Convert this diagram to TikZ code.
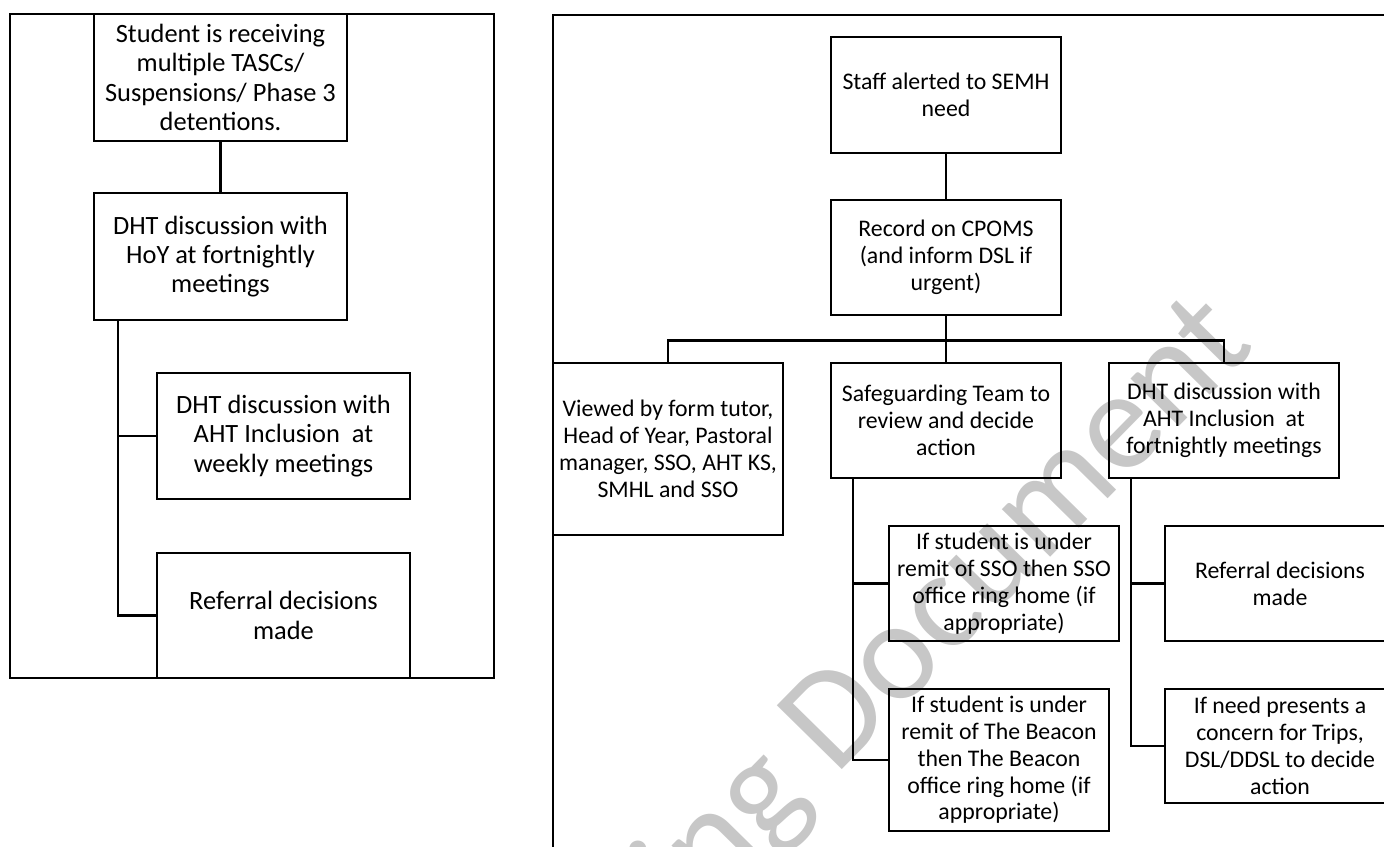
\documentclass[tikz,border=0pt]{standalone}
\usepackage{fontspec}
\setmainfont{Carlito}
\tikzset{
  box/.style={draw, line width=1.25pt, inner sep=0pt, align=center},
  leftbox/.style={box, minimum width=126.5pt, font=\fontsize{13.2}{14.6}\selectfont},
  rightbox/.style={box, minimum width=115pt, font=\fontsize{11.9}{13.4}\selectfont},
  link/.style={line width=1.25pt},
  panel/.style={line width=0.9pt}
}

\begin{document}
\begin{tikzpicture}[x=0.5pt, y=-0.5pt]
  \useasboundingbox (0,0) rectangle (1384,846);
  \clip (0,0) rectangle (1384,846);
  % watermark
  \node[rotate=45.5, anchor=base east, text=black!22, font=\fontsize{71}{71}\selectfont] (wmark) at (1262,342) {ing Document};
  % left panel
  \draw[panel] (10,14) rectangle (494,678);
  \node[leftbox, minimum height=63.5pt] (stud) at (220.5,77.5) {Student is receiving\\multiple TASCs/\\Suspensions/ Phase 3\\detentions.};
  \node[leftbox, minimum height=63.5pt] (hoy) at (220.5,256.5) {DHT discussion with\\HoY at fortnightly\\meetings};
  \node[leftbox, minimum height=63pt] (weekly) at (283.5,436) {DHT discussion with\\AHT Inclusion\ \ at\\weekly meetings};
  \node[leftbox, minimum height=62.5pt] (refer) at (283.5,615.5) {Referral decisions\\made};
  \draw[link] (stud) -- (hoy);
  \draw[link] (hoy.south west) ++(25,0) coordinate (lt) |- (weekly.west);
  \draw[link] (lt) |- (refer.west);
  % right panel
  \draw[panel] (553,15) rectangle (1420,900);
  \node[rightbox, minimum height=58pt] (staff) at (946,95) {Staff alerted to SEMH\\need};
  \node[rightbox, minimum height=57.5pt] (rec) at (946,257.5) {Record on CPOMS\\(and inform DSL if\\urgent)};
  \node[rightbox, minimum height=86pt] (view) at (668,449) {Viewed by form tutor,\\Head of Year, Pastoral\\manager, SSO, AHT KS,\\SMHL and SSO};
  \node[rightbox, minimum height=57.5pt] (safe) at (946,420.5) {Safeguarding Team to\\review and decide\\action};
  \node[rightbox, minimum height=57.5pt] (dhtr) at (1224,420.5) {DHT discussion with\\AHT Inclusion\ \ at\\fortnightly meetings};
  \node[rightbox, minimum height=57.5pt] (sso) at (1004,583.5) {If student is under\\remit of SSO then SSO\\office ring home (if\\appropriate)};
  \node[rightbox, minimum width=110pt, minimum height=71pt] (beacon) at (999,760) {If student is under\\remit of The Beacon\\then The Beacon\\office ring home (if\\appropriate)};
  \node[rightbox, minimum height=57.5pt] (refr) at (1280,583.5) {Referral decisions\\made};
  \node[rightbox, minimum height=57pt] (trips) at (1280,746) {If need presents a\\concern for Trips,\\DSL/DDSL to decide\\action};
  \draw[link] (staff) -- (rec);
  \draw[link] (rec.south) -- ++(0,24) coordinate (bus);
  \draw[link] (view.north) |- (bus) -| (dhtr.north);
  \draw[link] (bus) -- (safe.north);
  \draw[link] (safe.south west) ++(23,0) coordinate (st) |- (sso.west);
  \draw[link] (st) |- (beacon.west);
  \draw[link] (dhtr.south west) ++(23,0) coordinate (dt) |- (refr.west);
  \draw[link] (dt) |- (trips.west);
\end{tikzpicture}
\end{document}
